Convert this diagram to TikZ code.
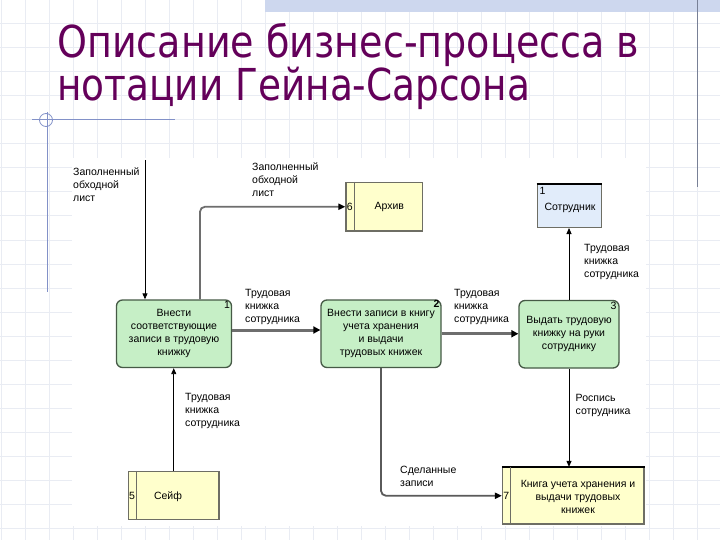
\documentclass[tikz,border=0pt]{standalone}
\usepackage{fontspec}
\setmainfont{Liberation Sans}
\newfontfamily\titlefont{DejaVu Sans}
\usetikzlibrary{arrows.meta}
\definecolor{titlecol}{RGB}{100,0,90}
\definecolor{procfill}{RGB}{198,239,198}
\definecolor{proccol}{RGB}{70,90,70}
\definecolor{storefill}{RGB}{255,255,204}
\definecolor{storecol}{RGB}{110,110,100}
\definecolor{entfill}{RGB}{225,236,250}
\definecolor{heavycol}{RGB}{110,110,110}
\definecolor{midcol}{RGB}{90,90,90}
\definecolor{gridcol}{RGB}{233,236,243}
\definecolor{crosscol}{RGB}{130,145,200}
\definecolor{bandcol}{RGB}{205,215,238}
\definecolor{rlinecol}{RGB}{120,128,150}
\newcommand\dgfont{\fontsize{10.5}{13}\selectfont}
\begin{document}
\begin{tikzpicture}[x=1pt,y=-1pt,
 proc/.style={draw=proccol, fill=procfill, rounded corners=6pt, line width=1.3pt, inner sep=0pt, align=center, font=\dgfont},
 store/.style={draw=storecol, fill=storefill, line width=1.2pt, inner sep=0pt},
 ent/.style={draw=storecol, fill=entfill, line width=1pt, inner sep=0pt},
 lbl/.style={anchor=base west, align=left, inner sep=0pt, font=\dgfont},
 txt/.style={inner sep=0pt, align=center, font=\dgfont},
 num/.style={inner sep=0pt, font=\dgfont},
 thinarr/.style={draw=black, line width=0.9pt, -{Triangle[length=6pt,width=5pt]}},
 heavyarr/.style={draw=heavycol, line width=3pt, -{Triangle[length=7pt,width=7pt,color=black]}},
 midarr/.style={draw=midcol, line width=1.8pt, rounded corners=5pt, -{Triangle[length=7pt,width=6pt,color=black]}},
 titletxt/.style={anchor=base west, inner sep=0pt, align=left, text=titlecol, font=\titlefont\fontsize{44}{34}\selectfont}
]
\useasboundingbox (0,0) rectangle (720,540);
\fill[white] (0,0) rectangle (720,540);
% grid
\foreach \i in {0,...,29} \draw[gridcol, line width=1pt] (24*\i+1,0) -- (24*\i+1,540);
\foreach \j in {0,...,22} \draw[gridcol, line width=1pt] (0,24*\j) -- (720,24*\j);
% decorations
\fill[bandcol] (265,0) rectangle (720,12);
\draw[rlinecol, line width=1pt] (697,0) -- (697,187);
\draw[crosscol, line width=1pt] (32,120) -- (175,120);
\draw[crosscol, line width=1pt] (47.5,112) -- (47.5,292);
\draw[crosscol, line width=0.8pt] (46,120) circle (6.5);
% title
\node[titletxt] (title) at (57,101) {\resizebox{582pt}{\height}{Описание бизнес-процесса в}\\\resizebox{473pt}{\height}{нотации Гейна-Сарсона}};
% diagram background
\fill[white] (72,158) rectangle (646,526);
% processes
\node[proc, minimum width=115pt, minimum height=67.5pt] (P1) at (174,333.75) {Внести\\соответствующие\\записи в трудовую\\книжку};
\node[proc, minimum width=120pt, minimum height=67.5pt] (P2) at (381,333.75) {Внести записи в книгу\\учета хранения\\и выдачи\\трудовых книжек};
\node[proc, minimum width=100pt, minimum height=67.5pt] (P3) at (569,334.25) {Выдать трудовую\\книжку на руки\\сотруднику};
\node[num, anchor=north east] (n1) at ([xshift=-2pt,yshift=-2pt]P1.north east) {1};
\node[num, anchor=north east] (n2) at ([xshift=-2pt,yshift=-1pt]P2.north east) {\textbf{2}};
\node[num, anchor=north east] (n3) at ([xshift=-3pt,yshift=-2pt]P3.north east) {3};
% stores
\node[store, minimum width=76.5pt, minimum height=48.5pt] (Archive) at (384.25,206.75) {};
\draw[storecol, line width=1pt] ([xshift=9pt]Archive.north west) -- ([xshift=9pt]Archive.south west);
\node[num] (n6) at ([xshift=4.5pt]Archive.west) {6};
\node[txt] (ta) at ([xshift=5pt]Archive.center) {Архив};
\node[store, minimum width=90.5pt, minimum height=48pt] (Safe) at (173.75,495.5) {};
\draw[storecol, line width=1pt] ([xshift=8.5pt]Safe.north west) -- ([xshift=8.5pt]Safe.south west);
\node[num] (n5) at ([xshift=4.2pt]Safe.west) {5};
\node[txt] (ts) at (168,496.5) {Сейф};
\node[store, minimum width=141.5pt, minimum height=56.5pt] (Book) at (573.25,495.75) {};
\draw[black, line width=2pt] (Book.north west) -- (Book.north east);
\draw[storecol, line width=1pt] ([xshift=9pt]Book.north west) -- ([xshift=9pt]Book.south west);
\node[num] (n7) at ([xshift=4.5pt]Book.west) {7};
\node[txt] (tb) at (578,497) {Книга учета хранения и\\выдачи трудовых\\книжек};
% external entity
\node[ent, minimum width=64pt, minimum height=42.5pt] (Emp) at (569,206.25) {};
\draw[black, line width=2pt] (Emp.north west) -- (Emp.north east);
\node[num, anchor=north west] (ne) at ([xshift=3pt,yshift=-3pt]Emp.north west) {1};
\node[txt] (te) at (570,207.5) {Сотрудник};
% connectors
\coordinate (src1) at (145,160);
\draw[thinarr] (src1) -- (src1 |- P1.north);
\draw[midarr, draw=heavycol] ([xshift=26pt]P1.north) |- (Archive.west);
\draw[heavyarr] ([yshift=3.75pt]P1.east) -- ([yshift=3.75pt]P2.west);
\draw[heavyarr] (P2.east) -- (P2.east -| P3.west);
\draw[thinarr] (P3.north) -- (P3.north |- Emp.south);
\draw[thinarr] (Safe.north) -- (Safe.north |- P1.south);
\draw[midarr] (P2.south) |- (Book.west);
\draw[thinarr] (P3.south) -- (P3.south |- Book.north);
% labels (base = last line)
\node[lbl] (l1) at (73,201.2) {Заполненный\\обходной\\лист};
\node[lbl] (l2) at (252,196.2) {Заполненный\\обходной\\лист};
\node[lbl] (l3) at (245,322.2) {Трудовая\\книжка\\сотрудника};
\node[lbl] (l4) at (454,322.8) {Трудовая\\книжка\\сотрудника};
\node[lbl] (l5) at (584,277.8) {Трудовая\\книжка\\сотрудника};
\node[lbl] (l6) at (185,426.2) {Трудовая\\книжка\\сотрудника};
\node[lbl] (l7) at (575.5,414) {Роспись\\сотрудника};
\node[lbl] (l8) at (400,486.5) {Сделанные\\записи};
\end{tikzpicture}
\end{document}
